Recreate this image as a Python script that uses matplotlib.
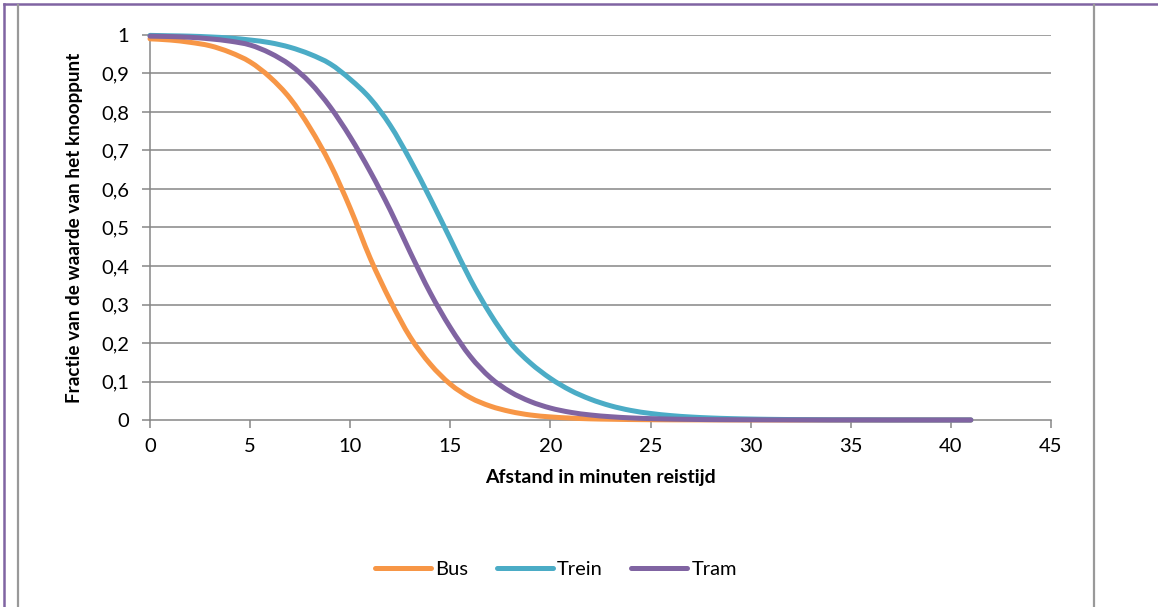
import matplotlib
matplotlib.use("Agg")
import matplotlib.pyplot as plt
from matplotlib.lines import Line2D
from matplotlib.path import Path
from matplotlib.patches import PathPatch

plt.rcParams['font.family'] = ['Lato', 'DejaVu Sans']

minutes = list(range(0, 42))

bus = [0.99, 0.987, 0.981, 0.972, 0.955, 0.93, 0.89, 0.835, 0.758, 0.665,
       0.55, 0.42, 0.31, 0.215, 0.145, 0.093, 0.058, 0.036, 0.022, 0.013,
       0.008, 0.005, 0.003, 0.002, 0.0012, 0.0007, 0.0004, 0.0003, 0.0002, 0.0001,
       0.0001, 0.0001, 0.0, 0.0, 0.0, 0.0, 0.0, 0.0, 0.0, 0.0,
       0.0, 0.0]

trein = [0.999, 0.998, 0.997, 0.995, 0.992, 0.987, 0.98, 0.968, 0.95, 0.925,
         0.885, 0.835, 0.765, 0.675, 0.575, 0.47, 0.365, 0.275, 0.2, 0.148,
         0.108, 0.077, 0.054, 0.037, 0.025, 0.017, 0.0115, 0.0078, 0.0053, 0.0036,
         0.0025, 0.0017, 0.0012, 0.0008, 0.0005, 0.0004, 0.0003, 0.0002, 0.0002, 0.0001,
         0.0001, 0.0001]

tram = [0.997, 0.996, 0.994, 0.99, 0.984, 0.974, 0.953, 0.922, 0.876, 0.813,
        0.735, 0.645, 0.545, 0.435, 0.33, 0.24, 0.165, 0.11, 0.073, 0.048,
        0.031, 0.02, 0.013, 0.0085, 0.0055, 0.0036, 0.0024, 0.0016, 0.001, 0.0007,
        0.0005, 0.0003, 0.0002, 0.0002, 0.0001, 0.0001, 0.0001, 0.0, 0.0, 0.0,
        0.0, 0.0]

series_names = ["Bus", "Trein", "Tram"]
colors = ["#F79646", "#4BACC6", "#8064A2"]

x_ticks = [0, 5, 10, 15, 20, 25, 30, 35, 40, 45]
y_ticks = [0, 0.1, 0.2, 0.3, 0.4, 0.5, 0.6, 0.7, 0.8, 0.9, 1]
y_tick_labels = ["0", "0,1", "0,2", "0,3", "0,4", "0,5", "0,6", "0,7", "0,8", "0,9", "1"]


def smooth_path(xs, ys):
    """Excel-style smoothed line: cubic Bezier segments through the data points."""
    pts = list(zip(xs, ys))
    n = len(pts)
    verts = [pts[0]]
    codes = [Path.MOVETO]
    for i in range(n - 1):
        p0 = pts[i - 1] if i > 0 else pts[i]
        p1 = pts[i]
        p2 = pts[i + 1]
        p3 = pts[i + 2] if i + 2 < n else pts[i + 1]
        c1 = (p1[0] + (p2[0] - p0[0]) / 6.0, p1[1] + (p2[1] - p0[1]) / 6.0)
        c2 = (p2[0] - (p3[0] - p1[0]) / 6.0, p2[1] - (p3[1] - p1[1]) / 6.0)
        verts += [c1, c2, p2]
        codes += [Path.CURVE4, Path.CURVE4, Path.CURVE4]
    return Path(verts, codes)


W, H = 1158, 607
fig = plt.figure(figsize=(W / 100, H / 100), dpi=100)
ax = fig.add_axes([150 / W, (H - 420) / H, (1051 - 150) / W, 385 / H])

grid_c = "#868686"
for yv in y_ticks[1:]:
    ax.axhline(yv, color=grid_c, lw=1.1, zorder=1)

lw = 3.6
handles = []
for vals, name, c in zip([bus, trein, tram], series_names, colors):
    patch = PathPatch(smooth_path(minutes, vals), facecolor='none', edgecolor=c, lw=lw,
                      capstyle='round', joinstyle='round', zorder=3, clip_on=False)
    ax.add_patch(patch)
    handles.append(Line2D([], [], color=c, lw=lw, solid_capstyle='round', label=name))

ax.set_xlim(0, 45)
ax.set_ylim(0, 1)
ax.set_xticks(x_ticks)
ax.set_xticklabels([str(v) for v in x_ticks])
ax.set_yticks(y_ticks)
ax.set_yticklabels(y_tick_labels)
ax.tick_params(axis='both', direction='out', length=6, width=1.1, color=grid_c,
               labelsize=14.5, labelcolor="black")
ax.tick_params(axis='y', pad=9)
ax.tick_params(axis='x', pad=7)
for s in ['top', 'right']:
    ax.spines[s].set_visible(False)
for s in ['left', 'bottom']:
    ax.spines[s].set_color(grid_c)
    ax.spines[s].set_linewidth(1.1)

ax.set_xlabel("Afstand in minuten reistijd", fontsize=14, fontweight='bold', labelpad=10)
ax.set_ylabel("Fractie van de waarde van het knooppunt", fontsize=13.6, fontweight='bold', labelpad=13)

fig.legend(handles=handles, loc='center', bbox_to_anchor=(556 / W, 1 - 569 / H), ncol=3,
           frameon=False, fontsize=14.5, handlelength=2.8, handletextpad=0.2, columnspacing=1.4)

# frame lines
fig.add_artist(Line2D([3.5 / W, 1.0], [1 - 4 / H, 1 - 4 / H], transform=fig.transFigure,
                      color="#8064A2", lw=1.8))
fig.add_artist(Line2D([3.5 / W, 3.5 / W], [0, 1 - 4 / H], transform=fig.transFigure,
                      color="#8064A2", lw=1.8))
fig.add_artist(Line2D([17.5 / W, 17.5 / W], [0, 1 - 5 / H], transform=fig.transFigure,
                      color="#999999", lw=1.6))
fig.add_artist(Line2D([1093.5 / W, 1093.5 / W], [0, 1 - 5 / H], transform=fig.transFigure,
                      color="#999999", lw=1.6))

fig.savefig("out.png", dpi=100)
